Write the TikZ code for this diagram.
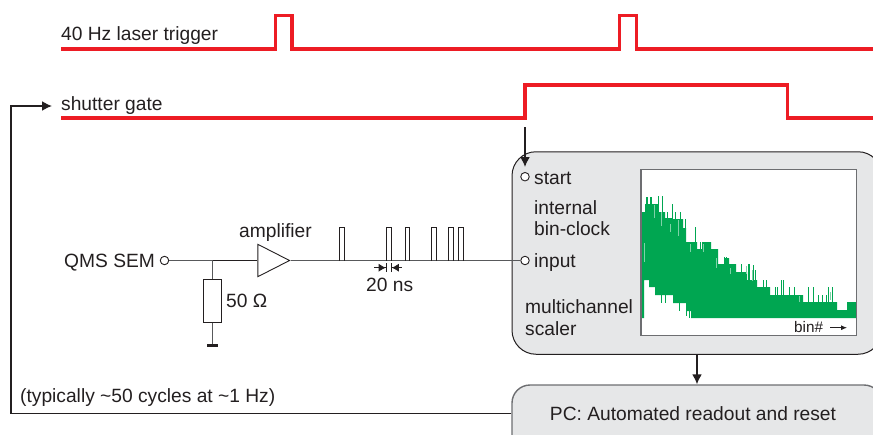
\documentclass[tikz,border=0pt]{standalone}
\usepackage{fontspec}
\setmainfont{Liberation Sans}
\usetikzlibrary{arrows.meta,shapes.geometric,calc}
\definecolor{redline}{HTML}{ED1C24}
\definecolor{ink}{HTML}{231F20}
\definecolor{panel}{HTML}{E6E7E8}
\definecolor{framegrey}{HTML}{6D6E71}
\definecolor{wiregrey}{HTML}{58595B}
\definecolor{specgreen}{HTML}{00A651}
\definecolor{specpale}{HTML}{7FD2A8}
\tikzset{
  lbl/.style={anchor=base west,inner sep=0pt,text=ink,font=\fontsize{19.2}{22}\selectfont},
  smalllbl/.style={anchor=base west,inner sep=0pt,text=ink,font=\fontsize{15.3}{18}\selectfont},
  trace/.style={draw=redline,line width=3.3pt,miter limit=10},
  panelbox/.style={draw=ink,fill=panel,line width=1pt,rounded corners=24pt,inner sep=0pt},
  link/.style={draw=ink,line width=1.6pt,-{Latex[length=10pt,width=10pt]}},
  wire/.style={draw=wiregrey,line width=.9pt},
  port/.style={circle,draw=ink,fill=white,line width=.9pt,minimum size=8.5pt,inner sep=0pt},
  pulse/.style={draw=ink,line width=.8pt},
  dimarrow/.style={draw=ink,line width=.8pt,-{Latex[length=7pt,width=8pt]Bar[width=9pt]}},
  spike/.style={draw=specgreen,line width=1pt},
  gapline/.style={draw=specpale,line width=.8pt}
}
\begin{document}
\begin{tikzpicture}[x=1pt,y=-1pt]
\useasboundingbox (0,0) rectangle (873,434);
\clip (0,0) rectangle (873,434);
% boxes
\node[panelbox,minimum width=370pt,minimum height=202.5pt] (mcs) at (697,253) {};
\node[panelbox,draw=framegrey,line width=1.4pt,rounded corners=18pt,minimum width=370pt,minimum height=80pt] (pc) at (697,425) {};
\node[lbl,anchor=center] (pctext) at (693,414) {PC: Automated readout and reset};
% spectrum
\node[fill=white,minimum width=215pt,minimum height=165.3pt,inner sep=0pt] (plot) at (748.8,252.6) {};
\fill[specgreen] (642,318) |- (645,212) |- (658,204) |- (665,212) |- (672,218) |- (683,219)
  |- (686,228) |- (697,242) |- (702,249) |- (711,242) |- (718,249) |- (725,264) |- (729,258)
  |- (736,264) |- (747,272) |- (757,280) |- (770,287) |- (803,295) |- (824,302) |- (837,302)
  |- (847,310) |- (856.5,302) |- (856.5,318) |- (691,318) |- (686,311) |- (673,303) |- (655,295)
  |- (649,287) |- (644,280) |- (642,318) -- cycle;
\foreach \x/\t in {646/197,647/197,650/197,651/197,653/204,658.7/196,662.7/196,667/212,670/218,672.7/204,
  675.3/212,680/212,685/219,690/242,695.3/227,700/242,707/242,711/249,716/249,722/264,724.5/257,726.7/257,
  732/264,734.7/264,741/264,748/264,749.5/264,753/265,755/270,763.5/280,766.7/280,775/287,777/287,781/280,
  783/280,789/287,794/287,808/287,813/287,818/295,822/295,826/295,828/287,832/287,850/302}
  \draw[spike] (\x,\t) -- (\x,\t+16);
\foreach \x/\b in {661/303,665/303,679/311,686/316,689/318}
  \draw[spike] (\x,290) -- (\x,\b);
\foreach \x/\t/\b in {644/243/262,654/205/218,661/212/226,670/224/232,678/220/236,690/244/252,
  703/244/252,716/258/268,730/268/274,746/266/274,752/270/281,799/296/302,830/292/300}
  \draw[gapline] (\x,\t) -- (\x,\b);
\draw[framegrey,line width=1.4pt] (plot.north west) rectangle (plot.south east);
\node[smalllbl] (binlab) at (794,332.7) {bin\#};
\coordinate (binA) at (830,327.7);
\coordinate (binB) at (847,327.7);
\draw[draw=ink,line width=.8pt,-{Latex[length=6pt,width=5pt]}] (binA) -- (binB);
% traces
\draw[trace] (61,49) -- (275.5,49) -- (275.5,15.5) -- (292,15.5) -- (292,49) -- (619.5,49)
  -- (619.5,15.5) -- (636.5,15.5) -- (636.5,49) -- (873,49);
\draw[redline,line width=4pt] (512,49) -- (608,49);
\draw[trace] (61,118) -- (525,118) -- (525,85) -- (787.5,85) -- (787.5,118) -- (873,118);
% labels
\node[lbl] (trig) at (61,40) {40 Hz laser trigger};
\node[lbl] (gate) at (61,110) {shutter gate};
\node[lbl] (startlab) at (534,184) {start};
\node[lbl] (inner1) at (534,214) {internal};
\node[lbl] (inner2) at (534,235) {bin-clock};
\node[lbl] (inputlab) at (534,267.5) {input};
\node[lbl] (mc1) at (525,313.5) {multichannel};
\node[lbl] (mc2) at (525,335) {scaler};
\node[lbl] (cycles) at (20,402) {(typically \textasciitilde50 cycles at \textasciitilde1 Hz)};
\node[lbl] (sem) at (64,267) {QMS SEM};
\node[lbl] (amplab) at (239,237.5) {amplifier};
\node[lbl] (nslab) at (366,291) {20 ns};
\node[lbl] (ohm) at (226,307) {50 Ω};
% ports
\node[port] (startp) at (525,176.7) {};
\node[port] (inputp) at (525,260.5) {};
\node[port] (semp) at (164.5,260.5) {};
% start and readout links
\coordinate (startfrom) at (525,127);
\draw[link,shorten >=5pt] (startfrom) -- (startp.north);
\draw[link] (mcs.south) -- (pc.north);
% feedback
\coordinate (fbA) at (pc.west |- 0,413.5);
\coordinate (fbB) at (11,413.5);
\coordinate (fbC) at (11,106);
\coordinate (fbD) at (52,106);
\draw[link] (fbA) -- (fbB) -- (fbC) -- (fbD);
% circuit
\node[draw=ink,fill=white,line width=.9pt,isosceles triangle,isosceles triangle stretches,shape border rotate=0,
  minimum width=32.4pt,minimum height=31.7pt,inner sep=0pt,anchor=apex] (amp) at (290.7,260.5) {};
\coordinate (junction) at (212.7,260.5);
\node[draw=ink,fill=white,line width=.9pt,minimum width=18pt,minimum height=42.7pt,inner sep=0pt] (res) at (212.7,300.7) {};
\node[fill=ink,minimum width=11pt,minimum height=3.2pt,inner sep=0pt] (gnd) at (212.7,345.3) {};
\draw[wire] (semp) -- (junction);
\draw[ink,line width=1.6pt] (junction) -- (amp.lower side);
\draw[wire] (junction) -- (res.north);
\draw[wire] (res.south) -- (gnd.north);
\draw[wire] (amp.apex) -- (inputp.west);
\foreach \a/\b in {339.5/344,386.5/391,405/409.5,431/436,448.5/453,458.5/463}
  \draw[pulse] (\a,260.5) -- (\a,227.3) -- (\b,227.3) -- (\b,260.5);
\coordinate (dimL) at (374,267.7);
\coordinate (dimLend) at (386.5,267.7);
\coordinate (dimR) at (401.7,267.7);
\coordinate (dimRend) at (391,267.7);
\draw[dimarrow] (dimL) -- (dimLend);
\draw[dimarrow] (dimR) -- (dimRend);
\end{tikzpicture}
\end{document}
